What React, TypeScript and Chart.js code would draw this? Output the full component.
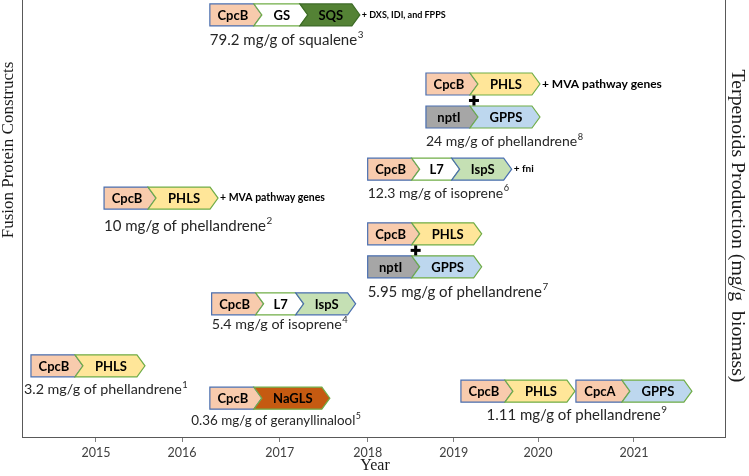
import React, { useEffect, useRef } from "react";
import { Chart, registerables } from "chart.js";

Chart.register(...registerables);

// ---- Axis data ----
const tickLabels = ["2015", "2016", "2017", "2018", "2019", "2020", "2021"];
const tickPositions = [2015, 2015.96, 2017.05, 2018.03, 2018.99, 2019.93, 2021];
const xMin = 2014.175;
const xMax = 2022.015;

// ---- Construct data (one entry per fusion protein construct) ----
const constructYear = [2016.27, 2018.68, 2018.03, 2018.03, 2015.09, 2016.29, 2014.275, 2016.27, 2019.07];
const constructLevel = [99.1, 83.3, 63.8, 49.0, 57.2, 33.0, 18.8, 11.4, 13.0];
const production = ["79.2", "24", "12.3", "5.95", "10", "5.4", "3.2", "0.36", "1.11"];
const products = ["squalene", "phellandrene", "isoprene", "phellandrene", "phellandrene", "isoprene", "phellandrene", "geranyllinalool", "phellandrene"];
const refs = ["3", "8", "6", "7", "2", "4", "1", "5", "9"];
const geneRows = [
  ["CpcB>GS>SQS"],
  ["CpcB>PHLS", "nptI>GPPS"],
  ["CpcB>L7>IspS"],
  ["CpcB>PHLS", "nptI>GPPS"],
  ["CpcB>PHLS"],
  ["CpcB>L7>IspS"],
  ["CpcB>PHLS"],
  ["CpcB>NaGLS"],
  ["CpcB>PHLS|CpcA>GPPS"],
];
const extraGenes = ["+ DXS, IDI, and FPPS", "+ MVA pathway genes", "+ fni", "", "+ MVA pathway genes", "", "", "", ""];

// ---- Styles ----
const GENE_STYLE: Record<string, { w: number; fill: string; stroke: string }> = {
  CpcB: { w: 44, fill: "#F8CBAD", stroke: "#4A6FB0" },
  CpcA: { w: 46, fill: "#F8CBAD", stroke: "#4A6FB0" },
  PHLS: { w: 62, fill: "#FFE699", stroke: "#70AD47" },
  GS: { w: 46, fill: "#FFFFFF", stroke: "#70AD47" },
  SQS: { w: 52, fill: "#548235", stroke: "#3E6B28" },
  L7: { w: 40, fill: "#FFFFFF", stroke: "#70AD47" },
  IspS: { w: 52, fill: "#C5E0B4", stroke: "#4A6FB0" },
  nptI: { w: 44, fill: "#A6A6A6", stroke: "#4A6FB0" },
  GPPS: { w: 62, fill: "#BDD7EE", stroke: "#70AD47" },
  NaGLS: { w: 68, fill: "#C55A11", stroke: "#70AD47" },
};
const BOX_H = 22;
const TIP = 8;
const ROW_PITCH = 33;
const LABEL_ALIGN = ["left", "left", "left", "left", "left", "left", "left", "center", "center"];
const LABEL_DX = [0, 0, 0, 0, 0, 0, -7, 6, 0];
const LABEL_GAP = [14, 14, 13, 14, 17, 10, 13, 12, 13];
const LABEL_SIZE = [15, 14, 14, 15, 15, 14.3, 14.3, 13.4, 15];
const EXTRA_SIZE = [9, 12, 10, 0, 10.5, 0, 0, 0, 0];
const GENE_FONT = "bold 13px Lato";
const AXIS_COLOR = "#595959";

function drawRow(ctx: CanvasRenderingContext2D, x0: number, top: number, row: string) {
  let x = x0;
  const groups = row.split("|");
  groups.forEach((g, gi) => {
    const genes = g.split(">");
    genes.forEach((name, i) => {
      const s = GENE_STYLE[name];
      const first = i === 0;
      ctx.beginPath();
      ctx.moveTo(x, top);
      ctx.lineTo(x + s.w, top);
      ctx.lineTo(x + s.w + TIP, top + BOX_H / 2);
      ctx.lineTo(x + s.w, top + BOX_H);
      ctx.lineTo(x, top + BOX_H);
      if (!first) ctx.lineTo(x + TIP, top + BOX_H / 2);
      ctx.closePath();
      ctx.fillStyle = s.fill;
      ctx.fill();
      ctx.lineWidth = 1.2;
      ctx.strokeStyle = s.stroke;
      ctx.stroke();
      ctx.fillStyle = "#000";
      ctx.font = GENE_FONT;
      ctx.textAlign = "center";
      ctx.textBaseline = "middle";
      const cx = first ? x + s.w / 2 + 1 : x + (s.w + TIP) / 2 + 1;
      ctx.fillText(name, cx, top + BOX_H / 2 + 1);
      x += s.w;
    });
    x += TIP;
    if (gi < groups.length - 1) x += 1;
  });
  return x;
}

const constructPlugin = {
  id: "constructs",
  afterDatasetsDraw(chart: any) {
    const ctx: CanvasRenderingContext2D = chart.ctx;
    const meta = chart.getDatasetMeta(0);
    ctx.save();
    meta.data.forEach((pt: any, i: number) => {
      const x0 = pt.x;
      const top0 = pt.y;
      let endX = x0;
      let firstEnd = x0;
      geneRows[i].forEach((row, r) => {
        const top = top0 + r * ROW_PITCH;
        const e = drawRow(ctx, x0, top, row);
        if (r === 0) firstEnd = e;
        endX = Math.max(endX, e);
        if (r > 0) {
          // bold plus sign between rows
          const px = x0 + GENE_STYLE["CpcB"].w + 4;
          const py = top - (ROW_PITCH - BOX_H) / 2;
          ctx.fillStyle = "#000";
          ctx.fillRect(px - 5, py - 1.5, 10, 3);
          ctx.fillRect(px - 1.5, py - 5, 3, 10);
        }
      });
      if (extraGenes[i]) {
        ctx.fillStyle = "#000";
        ctx.font = `bold ${EXTRA_SIZE[i]}px Lato`;
        ctx.textAlign = "left";
        ctx.textBaseline = "middle";
        ctx.fillText(extraGenes[i], firstEnd + 2, top0 + BOX_H / 2);
      }
      // production label
      const nRows = geneRows[i].length;
      const ly = top0 + (nRows - 1) * ROW_PITCH + BOX_H + LABEL_GAP[i];
      const main = `${production[i]} mg/g of ${products[i]}`;
      const fs = LABEL_SIZE[i];
      ctx.font = `${fs}px Lato`;
      const mw = ctx.measureText(main).width;
      ctx.font = `${fs * 0.66}px Lato`;
      const sw = ctx.measureText(refs[i]).width;
      let lx = x0 + LABEL_DX[i];
      if (LABEL_ALIGN[i] === "center") lx = (x0 + endX) / 2 - (mw + sw) / 2 + LABEL_DX[i];
      ctx.fillStyle = "#262626";
      ctx.textAlign = "left";
      ctx.textBaseline = "middle";
      ctx.font = `${fs}px Lato`;
      ctx.fillText(main, lx, ly);
      ctx.font = `${fs * 0.66}px Lato`;
      ctx.fillText(refs[i], lx + mw + 0.5, ly - 5);
    });
    ctx.restore();
  },
  afterDraw(chart: any) {
    const ctx: CanvasRenderingContext2D = chart.ctx;
    ctx.save();
    ctx.fillStyle = "#1a1a1a";
    ctx.textAlign = "center";
    ctx.textBaseline = "middle";
    // left title
    ctx.save();
    ctx.translate(9, 150);
    ctx.rotate(-Math.PI / 2);
    ctx.font = "17px 'Liberation Serif'";
    ctx.fillText("Fusion Protein Constructs", 0, 0);
    ctx.restore();
    // right title
    ctx.save();
    ctx.translate(737, 226);
    ctx.rotate(Math.PI / 2);
    ctx.font = "19.8px 'Liberation Serif'";
    ctx.fillText("Terpenoids Production (mg/g  biomass)", 0, 0);
    ctx.restore();
    // bottom title
    ctx.font = "16px 'Liberation Serif'";
    ctx.fillText("Year", 375, 466);
    ctx.restore();
  },
};

export default function App() {
  const ref = useRef<HTMLCanvasElement | null>(null);
  useEffect(() => {
    if (!ref.current) return;
    const chart = new Chart(ref.current, {
      type: "scatter",
      data: {
        datasets: [
          {
            label: "constructs",
            data: constructYear.map((x, i) => ({ x, y: constructLevel[i] })),
            pointRadius: 0,
            pointHoverRadius: 0,
          },
        ],
      },
      options: {
        animation: false,
        responsive: false,
        devicePixelRatio: 1,
        layout: { padding: 0 },
        plugins: { legend: { display: false }, tooltip: { enabled: false } },
        events: [],
        scales: {
          x: {
            type: "linear",
            min: xMin,
            max: xMax,
            afterBuildTicks: (s: any) => {
              s.ticks = tickPositions.map((v) => ({ value: v }));
            },
            afterFit: (s: any) => {
              s.height = 39;
            },
            ticks: {
              callback: (_v: any, i: number) => tickLabels[i],
              font: { family: "Lato", size: 12.5 },
              color: "#404040",
              padding: 3,
              maxRotation: 0,
              autoSkip: false,
            },
            grid: { drawOnChartArea: false, drawTicks: true, tickLength: 5, color: "#7f7f7f" },
            border: { color: AXIS_COLOR, width: 1 },
          },
          y: {
            min: 0,
            max: 100,
            ticks: { display: false },
            grid: { display: false },
            border: { color: AXIS_COLOR, width: 1 },
            afterFit: (s: any) => {
              s.width = 22;
            },
          },
          y2: {
            position: "right",
            min: 0,
            max: 100,
            ticks: { display: false },
            grid: { display: false },
            border: { color: AXIS_COLOR, width: 1 },
            afterFit: (s: any) => {
              s.width = 24;
            },
          },
        },
      },
      plugins: [constructPlugin],
    });
    return () => chart.destroy();
  }, []);
  return (
    <div style={{ position: "fixed", left: 0, top: 0, width: 749, height: 476, background: "#fff" }}>
      <canvas ref={ref} width={749} height={476} style={{ display: "block" }} />
    </div>
  );
}
